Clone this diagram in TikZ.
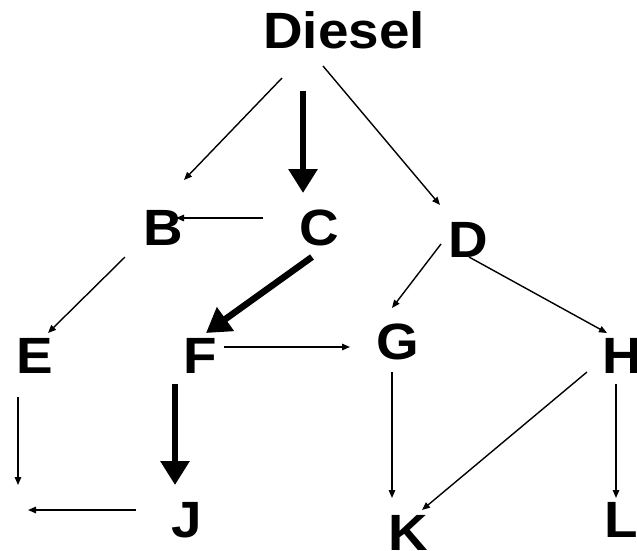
\documentclass[tikz,border=0pt]{standalone}
\usepackage{fontspec}
\usepackage{graphicx}
\setmainfont{Liberation Sans}
\usetikzlibrary{arrows.meta}
\newcommand{\widelbl}[1]{\scalebox{1.075}[1]{#1}}
\begin{document}
\begin{tikzpicture}[x=1pt,y=-1pt,
  lbl/.style={anchor=base,inner sep=0pt,font=\fontsize{51}{60}\selectfont\bfseries},
  thinarrow/.style={line width=1.4pt,-{Triangle[length=8pt,width=6.5pt]}},
  thickarrow/.style={line width=6.5pt,-{Triangle[length=24pt,width=28pt]}}]
\useasboundingbox (0,0) rectangle (637,550);
% labels
\node[lbl] (Diesel) at (344,48) {\widelbl{Diesel}};
\node[lbl] (B) at (163,245) {\widelbl{B}};
\node[lbl] (C) at (319,245) {\widelbl{C}};
\node[lbl] (D) at (468,257) {\widelbl{D}};
\node[lbl] (E) at (35,373) {\widelbl{E}};
\node[lbl] (F) at (200,373) {\widelbl{F}};
\node[lbl] (G) at (398,359) {\widelbl{G}};
\node[lbl] (H) at (622,373) {\widelbl{H}};
\node[lbl] (J) at (186.5,537) {\widelbl{J}};
\node[lbl] (K) at (408.5,550) {\widelbl{K}};
\node[lbl] (L) at (621.5,537) {\widelbl{L}};
% connector ends
\coordinate (dB0) at (282,78);  \coordinate (dB1) at (184,180);
\coordinate (dC0) at (303,91);  \coordinate (dC1) at (303,193);
\coordinate (dD0) at (323,66);  \coordinate (dD1) at (440,205);
\coordinate (cB0) at (263,218); \coordinate (cB1) at (176,218);
\coordinate (cF0) at (312,257); \coordinate (cF1) at (206,333);
\coordinate (bE0) at (125,257); \coordinate (bE1) at (48,333);
\coordinate (dG0) at (441,244); \coordinate (dG1) at (392,308);
\coordinate (dH0) at (469,257); \coordinate (dH1) at (607,333);
\coordinate (fG0) at (224,347); \coordinate (fG1) at (350,347);
\coordinate (eX0) at (18,397);  \coordinate (eX1) at (18,485);
\coordinate (fJ0) at (175,384); \coordinate (fJ1) at (175,485);
\coordinate (jX0) at (136,510); \coordinate (jX1) at (28,510);
\coordinate (gK0) at (392,372); \coordinate (gK1) at (392,498);
\coordinate (hK0) at (587,372); \coordinate (hK1) at (422,510);
\coordinate (hL0) at (616,384); \coordinate (hL1) at (616,498);
% connectors
\draw[thinarrow] (dB0) -- (dB1);
\draw[thickarrow] (dC0) -- (dC1);
\draw[thinarrow] (dD0) -- (dD1);
\draw[thinarrow] (cB0) -- (cB1);
\draw[thickarrow] (cF0) -- (cF1);
\draw[thinarrow] (bE0) -- (bE1);
\draw[thinarrow] (dG0) -- (dG1);
\draw[thinarrow] (dH0) -- (dH1);
\draw[thinarrow] (fG0) -- (fG1);
\draw[thinarrow] (eX0) -- (eX1);
\draw[thickarrow] (fJ0) -- (fJ1);
\draw[thinarrow] (jX0) -- (jX1);
\draw[thinarrow] (gK0) -- (gK1);
\draw[thinarrow] (hK0) -- (hK1);
\draw[thinarrow] (hL0) -- (hL1);
\end{tikzpicture}
\end{document}
